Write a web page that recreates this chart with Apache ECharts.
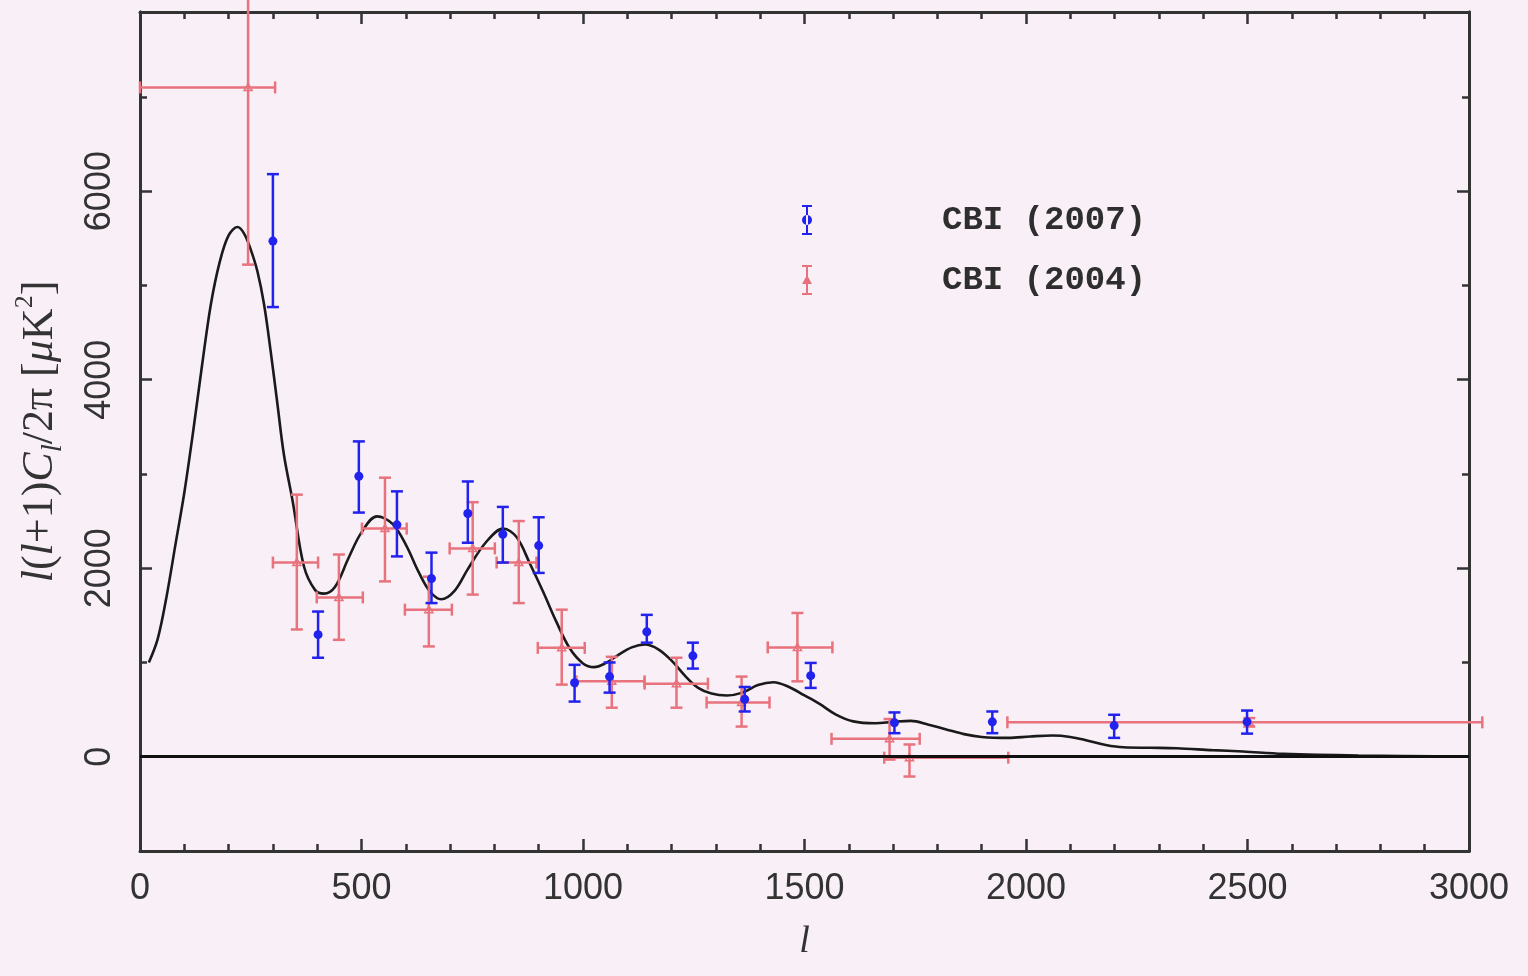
<!DOCTYPE html>
<html>
<head>
<meta charset="utf-8">
<title>CBI power spectrum</title>
<script src="https://cdn.jsdelivr.net/npm/echarts@6/dist/echarts.min.js"></script>
<style>
  html, body { margin: 0; padding: 0; background: #f9eff7; }
  #chart { width: 1528px; height: 976px; }
</style>
</head>
<body>
<div id="chart"></div>
<script>
// Model spectrum l(l+1)C_l/2pi
const modelL = [20, 40, 60, 80, 100, 120, 140, 160, 180, 200, 220, 235, 250, 265, 280, 295, 310, 325, 345, 370,
  395, 415, 440, 470, 500, 535, 570, 600, 630, 655, 680, 710, 740, 780, 820, 850, 880, 910, 940, 970,
  1000, 1025, 1050, 1080, 1110, 1140, 1170, 1200, 1230, 1260, 1290, 1325, 1360, 1395, 1430, 1465, 1500, 1534, 1570, 1610,
  1660, 1700, 1740, 1780, 1820, 1860, 1900, 1960, 2010, 2060, 2100, 2140, 2180, 2220, 2280, 2340, 2420, 2490, 2580, 2750, 3000];
const modelPower = [1000, 1250, 1700, 2250, 2800, 3450, 4150, 4800, 5250, 5530, 5620, 5550, 5380, 5150, 4800, 4300, 3750, 3200, 2700, 2020,
  1770, 1730, 1800, 2100, 2380, 2550, 2470, 2250, 1950, 1750, 1670, 1760, 1990, 2270, 2420, 2330, 2050, 1750, 1430, 1150,
  990, 950, 990, 1080, 1160, 1190, 1140, 1020, 860, 730, 670, 650, 680, 760, 790, 740, 650, 560, 450, 375,
  355, 370, 380, 340, 290, 240, 210, 200, 215, 225, 210, 170, 125, 100, 95, 90, 70, 55, 30, 12, 3];

// CBI (2007) band powers
const cbi07L = [300, 402, 494, 580, 658, 740, 819, 900, 981, 1060, 1144, 1248, 1365, 1514, 1703, 1924, 2199, 2499];
const cbi07Power = [5470, 1295, 2975, 2460, 1890, 2580, 2360, 2240, 785, 850, 1325, 1070, 610, 860, 360, 370, 330, 370];
const cbi07Low = [4770, 1050, 2590, 2125, 1630, 2270, 2060, 1950, 585, 680, 1210, 935, 480, 730, 250, 250, 200, 245];
const cbi07High = [6180, 1540, 3345, 2815, 2165, 2920, 2650, 2540, 975, 1000, 1505, 1210, 740, 995, 470, 480, 445, 490];

// CBI (2004) band powers with bin ranges
const cbi04L = [244, 354, 449, 553, 652, 751, 855, 952, 1065, 1211, 1358, 1484, 1692, 1737, 2504];
const cbi04Power = [7100, 2060, 1690, 2420, 1560, 2210, 2060, 1155, 800, 775, 575, 1160, 190, -10, 365];
const cbi04BinLow = [0, 300, 399, 501, 598, 699, 805, 898, 985, 1139, 1279, 1417, 1561, 1680, 1958];
const cbi04BinHigh = [305, 402, 503, 602, 704, 801, 895, 1004, 1139, 1282, 1421, 1563, 1760, 1960, 3030];
const cbi04Low = [5220, 1350, 1240, 1860, 1170, 1720, 1630, 765, 520, 520, 320, 800, -30, -210, 320];
const cbi04High = [8100, 2780, 2145, 2960, 1910, 2700, 2500, 1560, 1060, 1050, 850, 1525, 400, 130, 410];

const yLabelTicks = [0, 2000, 4000, 6000];
const yMinorTicks = [-1000, 1000, 3000, 5000, 7000];

const BLUE = '#2222ee';
const RED = '#e8737d';
const INK = '#333333';
const numFont = "'Liberation Sans Narrow', 'Liberation Sans', sans-serif";
const serif = "'Liberation Serif', serif";

const chart = echarts.init(document.getElementById('chart'), null, { renderer: 'canvas' });

function blueItem(params, api) {
  const x = api.value(0);
  const c = api.coord([x, api.value(1)]);
  const lo = api.coord([x, api.value(2)]);
  const hi = api.coord([x, api.value(3)]);
  const cap = 6;
  const st = { stroke: BLUE, lineWidth: 2.5 };
  return {
    type: 'group',
    children: [
      { type: 'line', shape: { x1: lo[0], y1: lo[1], x2: hi[0], y2: hi[1] }, style: st },
      { type: 'line', shape: { x1: lo[0] - cap, y1: lo[1], x2: lo[0] + cap, y2: lo[1] }, style: st },
      { type: 'line', shape: { x1: hi[0] - cap, y1: hi[1], x2: hi[0] + cap, y2: hi[1] }, style: st },
      { type: 'circle', shape: { cx: c[0], cy: c[1], r: 4.5 }, style: { fill: BLUE } }
    ]
  };
}

function redItem(params, api) {
  const x = api.value(0), y = api.value(1);
  const c = api.coord([x, y]);
  const xl = api.coord([api.value(2), y]);
  const xh = api.coord([api.value(3), y]);
  const yl = api.coord([x, api.value(4)]);
  const yh = api.coord([x, api.value(5)]);
  const cap = 6;
  const st = { stroke: RED, lineWidth: 2.5 };
  return {
    type: 'group',
    children: [
      { type: 'line', shape: { x1: xl[0], y1: xl[1], x2: xh[0], y2: xh[1] }, style: st },
      { type: 'line', shape: { x1: yl[0], y1: yl[1], x2: yh[0], y2: yh[1] }, style: st },
      { type: 'line', shape: { x1: yl[0] - cap, y1: yl[1], x2: yl[0] + cap, y2: yl[1] }, style: st },
      { type: 'line', shape: { x1: yh[0] - cap, y1: yh[1], x2: yh[0] + cap, y2: yh[1] }, style: st },
      { type: 'line', shape: { x1: xl[0], y1: xl[1] - cap, x2: xl[0], y2: xl[1] + cap }, style: st },
      { type: 'line', shape: { x1: xh[0], y1: xh[1] - cap, x2: xh[0], y2: xh[1] + cap }, style: st },
      { type: 'polygon', shape: { points: [[c[0], c[1] - 4], [c[0] + 4, c[1] + 3], [c[0] - 4, c[1] + 3]] },
        style: { fill: 'none', stroke: RED, lineWidth: 1.5 } }
    ]
  };
}

const modelData = modelL.map((l, i) => [l, modelPower[i]]);
const blueData = cbi07L.map((l, i) => [l, cbi07Power[i], cbi07Low[i], cbi07High[i]]);
const redData = cbi04L.map((l, i) => [l, cbi04Power[i], cbi04BinLow[i], cbi04BinHigh[i], cbi04Low[i], cbi04High[i]]);

const plain = v => String(v);
const frameLine = { show: true, onZero: false, lineStyle: { color: INK, width: 3 } };

const xCommon = {
  type: 'value', min: 0, max: 3000, interval: 500,
  axisLine: frameLine,
  axisTick: { show: true, inside: true, length: 12, lineStyle: { color: INK, width: 2.5 } },
  minorTick: { show: true, splitNumber: 5, length: 7, lineStyle: { color: INK, width: 2.5 } },
  splitLine: { show: false }
};

const yCommon = {
  type: 'value', min: -1000, max: 7900,
  axisLine: frameLine,
  splitLine: { show: false }
};

const option = {
  backgroundColor: '#f9eff7',
  animation: false,
  grid: { left: 140, right: 59, top: 12, bottom: 125, containLabel: false },
  legend: {
    orient: 'vertical',
    left: 797, top: 198,
    itemWidth: 16, itemHeight: 30, itemGap: 26,
    textStyle: { fontFamily: "'Liberation Mono', monospace", fontWeight: 'bold', fontSize: 34, color: '#2e2e2e',
      padding: [0, 0, 0, 122] },
    data: [
      { name: 'CBI (2007)', icon: 'path://M3,0h10v2h-10zM7,0h2v30h-2zM3,28h10v2h-10zM8,10a5,5 0 1,0 0.01,0z' },
      { name: 'CBI (2004)', icon: 'path://M3,0h10v2h-10zM7,0h2v30h-2zM3,28h10v2h-10zM8,10l5,9h-10z' }
    ]
  },
  xAxis: [
    Object.assign({}, xCommon, {
      position: 'bottom',
      name: 'l', nameLocation: 'middle', nameGap: 72,
      nameTextStyle: { fontFamily: serif, fontStyle: 'italic', fontSize: 38, color: INK },
      axisLabel: { margin: 20, fontFamily: numFont, fontSize: 36, color: INK, formatter: plain }
    }),
    Object.assign({}, xCommon, { position: 'top', axisLabel: { show: false } })
  ],
  yAxis: [
    Object.assign({}, yCommon, {
      position: 'left',
      name: '{it|l}({it|l}+1){it|C}{sub|l}/2π [{it|μ}K{sup|2}]',
      nameLocation: 'middle', nameGap: 72, nameRotate: 90,
      nameTextStyle: {
        fontFamily: serif, fontSize: 44, color: INK,
        rich: {
          it: { fontFamily: serif, fontStyle: 'italic', fontSize: 44, color: INK },
          sub: { fontFamily: serif, fontStyle: 'italic', fontSize: 29, color: INK, verticalAlign: 'bottom', lineHeight: 56 },
          sup: { fontFamily: serif, fontSize: 26, color: INK, verticalAlign: 'top', lineHeight: 56 }
        }
      },
      axisTick: { show: true, inside: true, length: 12, customValues: yLabelTicks, lineStyle: { color: INK, width: 2.5 } },
      axisLabel: { show: true, customValues: yLabelTicks, rotate: 90, margin: 22, fontFamily: numFont, fontSize: 36, color: INK, formatter: plain }
    }),
    Object.assign({}, yCommon, {
      position: 'left',
      axisTick: { show: true, inside: true, length: 7, customValues: yMinorTicks, lineStyle: { color: INK, width: 2.5 } },
      axisLabel: { show: false }
    }),
    Object.assign({}, yCommon, {
      position: 'right',
      axisTick: { show: true, inside: true, length: 12, customValues: yLabelTicks, lineStyle: { color: INK, width: 2.5 } },
      axisLabel: { show: false }
    }),
    Object.assign({}, yCommon, {
      position: 'right',
      axisTick: { show: true, inside: true, length: 7, customValues: yMinorTicks, lineStyle: { color: INK, width: 2.5 } },
      axisLabel: { show: false }
    })
  ],
  series: [
    {
      name: 'model',
      type: 'line',
      data: modelData,
      smooth: 0.35,
      showSymbol: false,
      z: 2,
      lineStyle: { color: '#1a1a1a', width: 2.6 },
      markLine: {
        silent: true,
        symbol: 'none',
        label: { show: false },
        lineStyle: { color: '#111', width: 3, type: 'solid' },
        data: [{ yAxis: 0 }]
      }
    },
    {
      name: 'CBI (2004)',
      type: 'custom',
      renderItem: redItem,
      data: redData,
      encode: { x: 0, y: 1 },
      clip: false,
      itemStyle: { color: RED },
      z: 3
    },
    {
      name: 'CBI (2007)',
      type: 'custom',
      renderItem: blueItem,
      data: blueData,
      encode: { x: 0, y: 1 },
      clip: false,
      itemStyle: { color: BLUE },
      z: 4
    }
  ]
};

chart.setOption(option);
</script>
</body>
</html>
